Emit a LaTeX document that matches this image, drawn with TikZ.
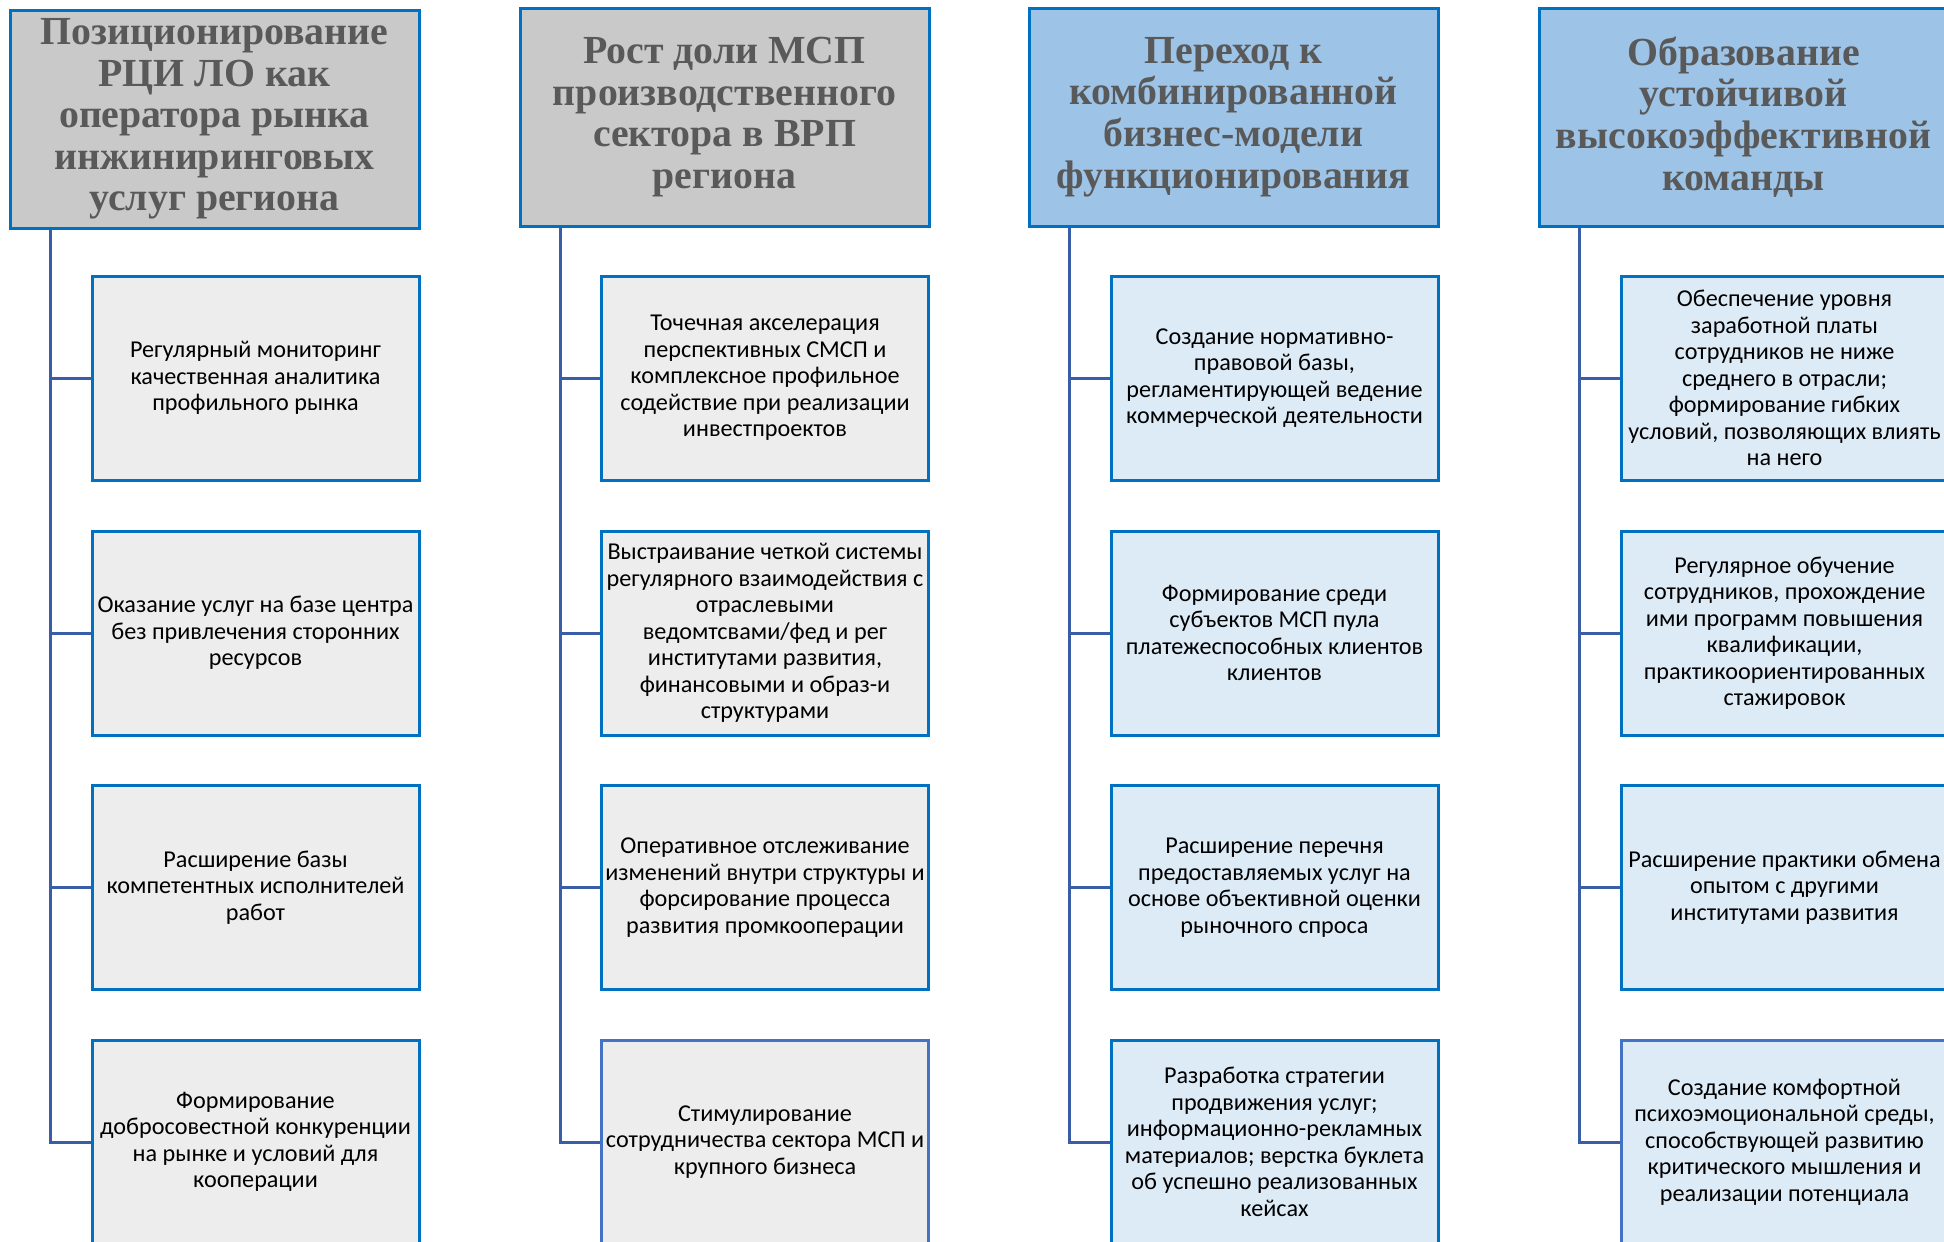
\documentclass[tikz,border=0pt]{standalone}
\usepackage{fontspec}
\setmainfont{Carlito}
\newfontfamily\headfont{Liberation Serif}
\definecolor{edgeblue}{HTML}{0070C0}
\definecolor{softblue}{HTML}{4472C4}
\definecolor{linkblue}{HTML}{3A5DA8}
\definecolor{headgray}{HTML}{C9C9C9}
\definecolor{headblue}{HTML}{9DC3E6}
\definecolor{itemgray}{HTML}{EDEDED}
\definecolor{itemblue}{HTML}{DDEBF7}
\definecolor{headtext}{HTML}{595959}
\begin{document}
\begin{tikzpicture}[x=0.5pt, y=-0.5pt,
    head/.style={draw=edgeblue, line width=1.5pt, minimum width=204.5pt, minimum height=109pt,
        inner sep=1pt, align=center, text=headtext,
        font={\headfont\bfseries\fontsize{19.9}{20.8}\selectfont}},
    item/.style={draw=edgeblue, line width=1.5pt, minimum width=163.5pt, minimum height=102pt,
        inner sep=1pt, align=center, text=black,
        font={\fontsize{12.1}{13.25}\selectfont}},
    link/.style={draw=linkblue, line width=1.5pt}]
    \useasboundingbox (0,0) rectangle (1944,1242);
    \clip (0,0) rectangle (1944,1242);
    % Headers
    \node[head, fill=headgray] (h1) at (214.5,119) {Позиционирование\\РЦИ ЛО как\\оператора рынка\\инжиниринговых\\услуг региона};
    \node[head, fill=headgray] (h2) at (724.5,117) {Рост доли МСП\\производственного\\сектора в ВРП\\региона};
    \node[head, fill=headblue] (h3) at (1233.5,117) {Переход к\\комбинированной\\бизнес-модели\\функционирования};
    \node[head, fill=headblue] (h4) at (1743.5,117) {Образование\\устойчивой\\высокоэффективной\\команды};
    % Column 1
    \node[item, fill=itemgray] (c11) at (255.5,378) {Регулярный мониторинг\\качественная аналитика\\профильного рынка};
    \node[item, fill=itemgray] (c12) at (255.5,633) {Оказание услуг на базе центра\\без привлечения сторонних\\ресурсов};
    \node[item, fill=itemgray] (c13) at (255.5,887.5) {Расширение базы\\компетентных исполнителей\\работ};
    \node[item, fill=itemgray] (c14) at (255.5,1142) {Формирование\\добросовестной конкуренции\\на рынке и условий для\\кооперации};
    % Column 2
    \node[item, fill=itemgray] (c21) at (765,378) {Точечная акселерация\\перспективных СМСП и\\комплексное профильное\\содействие при реализации\\инвестпроектов};
    \node[item, fill=itemgray] (c22) at (765,633) {Выстраивание четкой системы\\регулярного взаимодействия с\\отраслевыми\\ведомтсвами/фед и рег\\институтами развития,\\финансовыми и образ-и\\структурами};
    \node[item, fill=itemgray] (c23) at (765,887.5) {Оперативное отслеживание\\изменений внутри структуры и\\форсирование процесса\\развития промкооперации};
    \node[item, fill=itemgray, draw=softblue] (c24) at (765,1142) {Стимулирование\\сотрудничества сектора МСП и\\крупного бизнеса};
    % Column 3
    \node[item, fill=itemblue] (c31) at (1274.5,378) {Создание нормативно-\\правовой базы,\\регламентирующей ведение\\коммерческой деятельности};
    \node[item, fill=itemblue] (c32) at (1274.5,633) {Формирование среди\\субъектов МСП пула\\платежеспособных клиентов\\клиентов};
    \node[item, fill=itemblue] (c33) at (1274.5,887.5) {Расширение перечня\\предоставляемых услуг на\\основе объективной оценки\\рыночного спроса};
    \node[item, fill=itemblue] (c34) at (1274.5,1142) {Разработка стратегии\\продвижения услуг;\\информационно-рекламных\\материалов; верстка буклета\\об успешно реализованных\\кейсах};
    % Column 4
    \node[item, fill=itemblue] (c41) at (1784.5,378) {Обеспечение уровня\\заработной платы\\сотрудников не ниже\\среднего в отрасли;\\формирование гибких\\условий, позволяющих влиять\\на него};
    \node[item, fill=itemblue] (c42) at (1784.5,633) {Регулярное обучение\\сотрудников, прохождение\\ими программ повышения\\квалификации,\\практикоориентированных\\стажировок};
    \node[item, fill=itemblue] (c43) at (1784.5,887.5) {Расширение практики обмена\\опытом с другими\\институтами развития};
    \node[item, fill=itemblue, draw=softblue] (c44) at (1784.5,1142) {Создание комфортной\\психоэмоциональной среды,\\способствующей развитию\\критического мышления и\\реализации потенциала};
    % Links
    \foreach \col in {1,2,3,4}
        \foreach \row in {1,2,3,4}
            \draw[link] ([xshift=20.75pt]h\col.south west) |- (c\col\row.west);
\end{tikzpicture}
\end{document}
